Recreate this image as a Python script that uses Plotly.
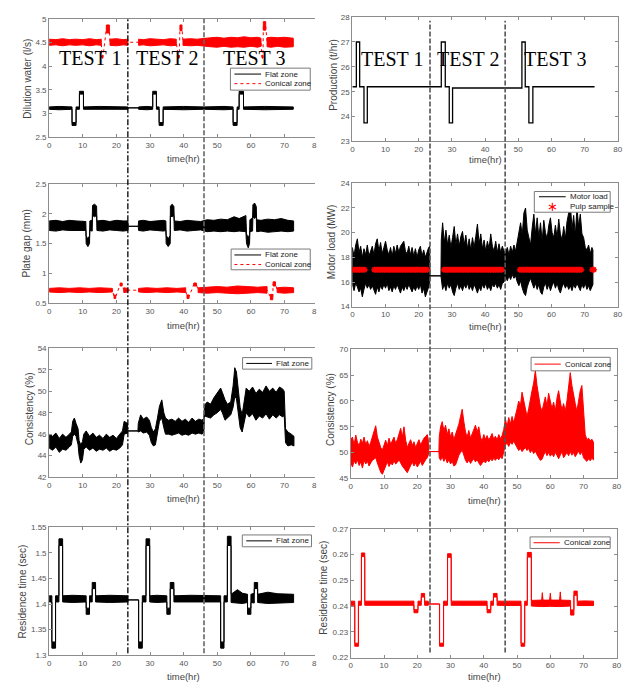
import plotly.graph_objects as go

# ---------------- test boundaries / labels ----------------
test_bounds_hr = [23.4, 46.05]
test_names = ["TEST 1", "TEST 2", "TEST 3"]
test_name_hr = [12.0, 35.0, 61.0]

# ---------------- Dilution water (l/s) ----------------
dil_flat_t = [0, 3, 6.8, 6.8, 8.0, 8.0, 9.0, 9.0, 10.2, 10.2, 15, 20, 23.4, 23.5, 26.5, 26.6, 29, 30.8, 30.8, 31.9, 31.9,
              32.7, 32.7, 33.9, 33.9, 40, 46, 52, 54.7, 54.7, 55.9, 55.9, 56.5, 56.5, 57.8, 57.8, 64, 72.6]
dil_flat_hi = [3.14, 3.15, 3.14, 2.81, 2.81, 3.14, 3.14, 3.47, 3.47, 3.14, 3.15, 3.14, 3.14, 3.12, 3.12, 3.14, 3.15, 3.14,
               3.47, 3.47, 3.14, 3.14, 2.81, 2.81, 3.14, 3.15, 3.14, 3.15, 3.14, 2.81, 2.81, 3.14, 3.14, 3.47, 3.47,
               3.14, 3.15, 3.14]
dil_flat_lo = [3.09, 3.08, 3.09, 2.75, 2.75, 3.09, 3.09, 3.41, 3.41, 3.09, 3.08, 3.09, 3.09, 3.12, 3.12, 3.09, 3.08, 3.09,
               3.41, 3.41, 3.09, 3.09, 2.75, 2.75, 3.09, 3.08, 3.09, 3.08, 3.09, 2.75, 2.75, 3.09, 3.09, 3.41, 3.41,
               3.09, 3.08, 3.09]

dil_con_t = [0, 2, 4, 6, 8, 10, 12, 14, 15.5, None, 15.7, 16.0, None, 17.0, 17.9, None, 18.1, 20, 22, 23.4, None,
             26.6, 28, 30, 32, 34, 36, 37.8, None, 38.4, 38.7, None, 38.9, 39.5, None,
             39.8, 42, 44, 46, 48, 50, 52, 54, 56, 58, 60, 62, 63.0, None, 63.3, 63.6, None, 63.7, 64.4, None,
             64.8, 66, 68, 70, 72.6]
dil_con_hi = [4.57, 4.56, 4.58, 4.56, 4.57, 4.56, 4.58, 4.56, 4.57, None, 4.23, 4.23, None, 4.87, 4.87, None,
              4.57, 4.58, 4.56, 4.57, None,
              4.57, 4.56, 4.58, 4.57, 4.56, 4.58, 4.57, None, 4.23, 4.23, None, 4.87, 4.87, None,
              4.57, 4.58, 4.57, 4.59, 4.60, 4.61, 4.59, 4.61, 4.60, 4.62, 4.60, 4.61, 4.59, None, 4.23, 4.23, None,
              4.94, 4.94, None, 4.60, 4.61, 4.60, 4.61, 4.59]
dil_con_lo = [4.44, 4.45, 4.43, 4.45, 4.44, 4.45, 4.43, 4.45, 4.44, None, 4.17, 4.17, None, 4.70, 4.70, None,
              4.44, 4.43, 4.45, 4.44, None,
              4.44, 4.45, 4.43, 4.44, 4.45, 4.43, 4.44, None, 4.17, 4.17, None, 4.75, 4.75, None,
              4.44, 4.43, 4.44, 4.42, 4.41, 4.40, 4.42, 4.40, 4.41, 4.40, 4.42, 4.40, 4.42, None, 4.17, 4.17, None,
              4.76, 4.76, None, 4.41, 4.40, 4.42, 4.40, 4.41]

# ---------------- Production (t/hr) ----------------
prod_t = [0, 1.2, 1.2, 2.2, 2.2, 3.5, 3.5, 4.5, 4.5, 23.4, 26.8, 26.8, 28.0, 28.0, 29.2, 29.2, 30.2, 30.2, 46.0,
          51.1, 51.1, 52.1, 52.1, 53.2, 53.2, 54.4, 54.4, 73.0]
prod_v = [25.2, 25.2, 27.0, 27.0, 25.2, 25.2, 23.75, 23.75, 25.2, 25.2, 25.2, 27.0, 27.0, 25.2, 25.2, 23.75, 23.75,
          25.15, 25.15, 25.15, 27.0, 27.0, 25.2, 25.2, 23.75, 23.75, 25.2, 25.2]

# ---------------- Plate gap (mm) ----------------
gap_flat_t = [0, 2, 4, 6, 8, 10, 10.9, 11.0, 11.5, 12.0, 12.1, 12.8, 12.9, 13.5, 14.1, 14.2, 16, 18, 20, 22, 23.4, 23.5,
              26.5, 26.6, 28, 30, 32, 34, 34.7, 34.8, 35.4, 36.0, 36.05, 36.6, 37.1, 37.2, 39, 41, 43, 45, 47, 49, 51,
              53, 55, 56.5, 58.5, 58.7, 59.2, 59.6, 59.7, 60.5, 60.6, 61.1, 61.6, 61.7, 63, 65, 67, 69, 71, 72.7]
gap_flat_hi = [1.88, 1.89, 1.87, 1.89, 1.88, 1.88, 1.87, 1.63, 1.58, 1.63, 1.88, 1.89, 2.14, 2.16, 2.13, 1.88, 1.89,
               1.87, 1.89, 1.88, 1.88, 1.79, 1.79, 1.88, 1.89, 1.87, 1.88, 1.89, 1.88, 1.64, 1.58, 1.64, 2.13, 2.16,
               2.12, 1.88, 1.87, 1.89, 1.88, 1.87, 1.90, 1.89, 1.91, 1.90, 1.95, 1.92, 1.97, 1.66, 1.60, 1.65, 1.90,
               1.93, 2.15, 2.18, 2.12, 1.90, 1.89, 1.91, 1.90, 1.92, 1.89, 1.88]
gap_flat_lo = [1.72, 1.71, 1.73, 1.72, 1.71, 1.72, 1.72, 1.50, 1.45, 1.50, 1.72, 1.71, 1.97, 1.95, 1.97, 1.72, 1.71,
               1.73, 1.72, 1.71, 1.72, 1.79, 1.79, 1.72, 1.71, 1.73, 1.72, 1.71, 1.72, 1.50, 1.45, 1.50, 1.96, 1.95,
               1.97, 1.72, 1.73, 1.71, 1.72, 1.73, 1.70, 1.71, 1.70, 1.71, 1.70, 1.71, 1.70, 1.50, 1.43, 1.50, 1.70,
               1.71, 1.95, 1.92, 1.96, 1.70, 1.71, 1.69, 1.70, 1.71, 1.70, 1.71]

gap_con_t = [0, 3, 6, 9, 12, 15, 18.8, None, 19.3, 19.8, None, 21.1, 21.7, None, 22.2, 23.4, None,
             26.6, 29, 32, 35, 38, 40.6, None, 41.0, 41.6, None, 43.0, 43.8, None,
             44.3, 47, 50, 53, 56, 59, 62, 64.8, None, 65.8, 66.5, None, 66.6, 67.3, None, 67.8, 70, 72.7]
gap_con_hi = [0.75, 0.76, 0.75, 0.76, 0.75, 0.76, 0.75, None, 0.64, 0.64, None, 0.84, 0.84, None, 0.76, 0.75, None,
              0.75, 0.76, 0.75, 0.76, 0.75, 0.76, None, 0.64, 0.64, None, 0.84, 0.84, None,
              0.76, 0.77, 0.78, 0.77, 0.79, 0.78, 0.77, 0.78, None, 0.65, 0.65, None, 0.86, 0.86, None,
              0.76, 0.77, 0.76]
gap_con_lo = [0.69, 0.68, 0.69, 0.68, 0.69, 0.68, 0.69, None, 0.58, 0.58, None, 0.79, 0.79, None, 0.68, 0.69, None,
              0.69, 0.68, 0.69, 0.68, 0.69, 0.68, None, 0.58, 0.58, None, 0.79, 0.79, None,
              0.68, 0.67, 0.68, 0.67, 0.66, 0.67, 0.68, 0.67, None, 0.56, 0.56, None, 0.79, 0.79, None,
              0.68, 0.67, 0.68]

# ---------------- Motor load (MW) ----------------
motor_t1 = [0, 0.5, 1, 1.5, 2, 2.5, 3, 3.5, 4, 4.5, 5, 5.5, 6, 6.5, 7, 7.5, 8, 8.5, 9, 9.5, 10, 10.5, 11, 11.5, 12,
            12.5, 13, 13.5, 14, 14.5, 15, 15.5, 16, 16.5, 17, 17.5, 18, 18.5, 19, 19.5, 20, 20.5, 21, 21.5, 22, 22.5,
            23, 23.3]
motor_hi1 = [18.8, 18.1, 19.0, 19.5, 18.4, 18.9, 18.0, 18.7, 18.2, 19.0, 18.1, 18.6, 18.9, 18.2, 19.1, 19.5, 18.5,
             19.2, 18.3, 18.8, 19.3, 18.6, 18.2, 18.8, 18.1, 18.9, 18.3, 19.0, 18.4, 18.9, 19.1, 19.3, 18.5, 18.3,
             18.9, 18.2, 18.8, 18.1, 18.7, 18.0, 18.6, 18.9, 18.1, 18.6, 18.0, 18.5, 18.8, 18.9]
motor_lo1 = [15.8, 15.3, 15.9, 15.6, 15.2, 15.5, 14.8, 15.4, 15.9, 15.5, 15.8, 15.4, 15.7, 15.3, 15.0, 15.6, 15.2,
             15.7, 15.4, 15.8, 15.5, 15.9, 15.3, 15.6, 15.2, 15.7, 15.4, 15.8, 15.5, 15.1, 15.6, 15.3, 15.7, 15.4,
             15.8, 15.5, 15.2, 15.6, 15.3, 15.7, 15.4, 15.8, 15.1, 15.5, 14.8, 15.2, 15.6, 15.9]
motor_gap_t = [23.4, 26.7]
motor_gap_v = [16.5, 16.5]
motor_t2 = [26.8, 27.2, 27.7, 28.2, 28.7, 29.2, 29.7, 30.2, 30.7, 31.2, 31.7, 32.2, 32.7, 33.2, 33.7, 34.2, 34.7,
            35.2, 35.7, 36.2, 36.7, 37.2, 37.7, 38.2, 38.7, 39.2, 39.7, 40.2, 40.7, 41.2, 41.7, 42.2, 42.7, 43.2,
            43.7, 44.2, 44.7, 45.2, 45.7]
motor_hi2 = [19.4, 20.8, 19.2, 20.2, 19.0, 19.8, 18.8, 19.6, 20.5, 19.0, 19.9, 18.9, 19.7, 20.1, 19.0, 19.8, 18.7,
             19.5, 18.6, 19.6, 18.8, 19.7, 20.7, 19.1, 19.9, 18.7, 19.4, 18.5, 19.3, 18.7, 19.9, 18.9, 18.5, 19.3,
             18.4, 19.1, 18.4, 18.9, 18.5]
motor_lo2 = [16.0, 15.4, 15.8, 15.3, 15.9, 15.5, 15.8, 15.2, 14.9, 15.5, 15.9, 15.4, 15.7, 15.3, 15.8, 15.5, 15.9,
             15.4, 15.7, 15.3, 15.8, 15.5, 15.1, 15.6, 15.3, 15.8, 15.5, 15.9, 15.4, 15.7, 15.3, 15.8, 15.6, 15.9,
             15.5, 15.8, 15.4, 15.9, 16.0]
motor_t3 = [46.2, 46.7, 47.2, 47.7, 48.2, 48.7, 49.2, 49.7, 50.2, 50.7, 51.2, 51.7, 52.2, 52.7, 53.2, 53.7, 54.2,
            54.7, 55.2, 55.7, 56.2, 56.7, 57.2, 57.7, 58.2, 58.7, 59.2, 59.7, 60.2, 60.7, 61.2, 61.7, 62.2, 62.7,
            63.2, 63.7, 64.2, 64.7, 65.2, 65.7, 66.2, 66.7, 67.2, 67.7, 68.2, 68.7, 69.2, 69.7, 70.2, 70.7, 71.2,
            71.7, 72.2, 72.5]
motor_hi3 = [18.4, 18.8, 18.2, 18.9, 18.4, 19.0, 18.5, 19.4, 20.0, 20.8, 19.8, 21.6, 22.0, 20.2, 19.6, 19.0, 20.4,
             21.5, 19.9, 21.2, 19.6, 20.8, 19.3, 21.0, 20.0, 19.5, 20.6, 21.2, 20.0, 19.6, 20.6, 19.6, 21.1, 19.9,
             19.4, 20.5, 19.5, 20.9, 21.6, 22.3, 20.3, 21.4, 19.8, 22.0, 20.5, 21.5, 19.9, 19.6, 18.8, 18.6, 19.0,
             18.3, 18.8, 18.6]
motor_lo3 = [16.4, 16.1, 16.5, 16.2, 16.6, 16.3, 16.5, 16.0, 15.7, 16.1, 15.5, 15.1, 14.9, 15.6, 16.0, 16.3, 15.9,
             15.5, 15.9, 15.4, 15.8, 15.2, 15.0, 15.6, 15.9, 15.4, 15.8, 15.3, 15.7, 16.0, 15.5, 15.9, 15.4, 15.1,
             15.6, 15.9, 15.5, 15.8, 15.4, 15.7, 15.3, 15.8, 15.5, 15.9, 15.6, 15.3, 15.8, 15.5, 15.9, 15.4, 15.7,
             15.3, 15.6, 15.8]

pulp_t = [0.2, 0.7, 1.2, 1.7, 2.2, 2.7, 3.2, 3.7,
          6.6, 7.1, 7.6, 8.1, 8.6, 9.1, 9.6, 10.1, 10.6, 11.1, 11.6, 12.1, 12.6, 13.1, 13.6, 14.1, 14.6, 15.1,
          15.6, 16.1, 16.6, 17.1, 17.6, 18.1, 18.6, 19.1, 19.6, 20.1, 20.6, 21.1, 21.6, 22.1, 22.6,
          27.6, 28.1, 28.6, 29.1, 29.6, 30.1, 30.6, 31.1, 31.6, 32.1, 32.6, 33.1, 33.6, 34.1, 34.6, 35.1, 35.6,
          36.1, 36.6, 37.1, 37.6, 38.1, 38.6, 39.1, 39.6, 40.1, 40.6, 41.1, 41.6, 42.1, 42.6, 43.1, 43.6, 44.1,
          44.6, 45.1,
          50.5, 51.0, 51.5, 52.0, 52.5, 53.0, 53.5, 54.0, 54.5, 55.0, 55.5, 56.0, 56.5, 57.0, 57.5, 58.0, 58.5,
          59.0, 59.5, 60.0, 60.5, 61.0, 61.5, 62.0, 62.5, 63.0, 63.5, 64.0, 64.5, 65.0, 65.5, 66.0, 66.5, 67.0,
          67.5, 68.0, 68.5, 69.0, 72.3, 72.8]
pulp_v = [17.0, 17.0, 17.0, 17.0, 17.0, 17.0, 17.0, 17.0,
          17.0, 17.0, 17.0, 17.0, 17.0, 17.0, 17.0, 17.0, 17.0, 17.0, 17.0, 17.0, 17.0, 17.0, 17.0, 17.0, 17.0, 17.0,
          17.0, 17.0, 17.0, 17.0, 17.0, 17.0, 17.0, 17.0, 17.0, 17.0, 17.0, 17.0, 17.0, 17.0, 17.0,
          17.0, 17.0, 17.0, 17.0, 17.0, 17.0, 17.0, 17.0, 17.0, 17.0, 17.0, 17.0, 17.0, 17.0, 17.0, 17.0, 17.0,
          17.0, 17.0, 17.0, 17.0, 17.0, 17.0, 17.0, 17.0, 17.0, 17.0, 17.0, 17.0, 17.0, 17.0, 17.0, 17.0, 17.0,
          17.0, 17.0,
          17.0, 17.0, 17.0, 17.0, 17.0, 17.0, 17.0, 17.0, 17.0, 17.0, 17.0, 17.0, 17.0, 17.0, 17.0, 17.0, 17.0,
          17.0, 17.0, 17.0, 17.0, 17.0, 17.0, 17.0, 17.0, 17.0, 17.0, 17.0, 17.0, 17.0, 17.0, 17.0, 17.0, 17.0,
          17.0, 17.0, 17.0, 17.0, 17.0, 17.0]

# ---------------- Consistency (%) flat zone ----------------
cons_flat_t = [0, 1, 2, 3, 4, 5, 6, 6.6, 7.0, 7.5, 8.0, 8.6, 8.9, 9.4, 9.9, 10.3, 11, 12, 13, 14, 15, 16, 17, 18, 19,
               20, 21, 21.8, 22.3, 23.3, 23.4, 26.4, 26.5, 27.2, 28, 29, 29.8, 30.4, 31.0, 31.6, 32.2, 32.8, 33.5,
               34.1, 34.6, 35.5, 36.5, 37.5, 38.5, 39.5, 40.5, 41.5, 42.5, 43.5, 44.5, 45.5, 46.0, 46.2, 47, 48, 49,
               50, 51, 51.5, 52.3, 53, 54, 54.7, 55.2, 55.7, 56.2, 56.8, 57.4, 58.0, 58.6, 59.5, 60.5, 61.5, 62.5,
               63.5, 64.5, 65.5, 66.5, 67.5, 68.5, 69.5, 69.9, 70.3, 71, 72, 72.8]
cons_flat_hi = [46.0, 45.8, 46.1, 45.6, 46.0, 45.7, 46.0, 46.2, 47.2, 47.5, 47.0, 46.5, 45.4, 45.0, 45.3, 46.0, 46.3,
                45.8, 46.1, 45.7, 45.9, 45.6, 46.0, 45.7, 45.9, 45.6, 46.0, 46.3, 47.2, 47.0, 46.3, 46.3, 47.0, 47.8,
                47.4, 47.6, 47.3, 46.6, 46.2, 46.5, 47.5, 48.6, 49.2, 48.0, 47.5, 47.3, 47.4, 47.2, 47.5, 47.2, 47.4,
                47.1, 47.5, 47.2, 47.4, 47.3, 47.5, 48.7, 49.0, 48.8, 49.4, 49.8, 50.3, 49.9, 49.2, 48.8, 49.0, 50.5,
                52.2, 51.8, 50.0, 48.5, 47.8, 49.0, 50.3, 50.0, 50.4, 49.8, 50.2, 49.9, 50.5, 50.0, 50.3, 49.9, 50.4,
                50.2, 50.0, 46.5, 46.2, 46.0, 45.8]
cons_flat_lo = [44.7, 44.5, 44.8, 44.3, 44.6, 44.5, 44.8, 45.0, 45.8, 46.0, 45.8, 45.0, 44.0, 43.3, 43.6, 44.6, 44.8,
                44.5, 44.7, 44.4, 44.6, 44.5, 44.7, 44.4, 44.6, 44.5, 44.7, 45.0, 46.0, 46.1, 46.3, 46.3, 46.2, 46.3,
                46.1, 46.2, 45.9, 45.2, 44.9, 45.0, 46.2, 47.2, 47.5, 46.6, 46.0, 46.0, 45.9, 46.0, 46.1, 45.9, 46.0,
                45.9, 46.1, 46.0, 46.1, 46.0, 46.2, 47.7, 47.6, 47.5, 47.8, 48.0, 48.3, 48.0, 47.3, 47.5, 47.8, 48.5,
                49.5, 49.3, 48.3, 46.6, 46.2, 47.2, 48.0, 47.6, 47.9, 47.3, 47.7, 47.5, 47.9, 47.4, 47.8, 47.5, 47.8,
                47.6, 47.8, 45.2, 44.9, 45.0, 44.9]

# ---------------- Consistency (%) conical zone ----------------
ccon_t1 = [0, 0.5, 1, 1.5, 2, 2.5, 3, 3.5, 4, 4.5, 5, 5.5, 6, 6.5, 7, 7.5, 8, 8.5, 9, 9.5, 10, 10.5, 11, 11.5, 12,
           12.5, 13, 13.5, 14, 14.5, 15, 15.5, 16, 16.5, 17, 17.5, 18, 18.5, 19, 19.5, 20, 20.5, 21, 21.5, 22, 22.5,
           23, 23.3]
ccon_hi1 = [52.5, 53.0, 51.5, 53.4, 52.0, 51.3, 52.6, 51.8, 53.0, 51.5, 52.3, 51.2, 52.0, 53.2, 54.0, 55.2, 53.0,
            51.8, 51.0, 50.5, 51.5, 52.4, 51.3, 52.8, 51.6, 52.2, 53.0, 51.8, 52.5, 53.6, 54.7, 53.0, 55.0, 52.4,
            51.0, 51.8, 52.5, 51.4, 52.1, 51.0, 51.8, 52.5, 51.5, 52.2, 52.8, 53.1, 53.5, 52.6]
ccon_lo1 = [48.0, 47.2, 48.4, 47.8, 48.6, 47.5, 48.2, 47.0, 48.5, 47.8, 48.3, 47.4, 48.0, 48.5, 48.8, 49.0, 48.0,
            47.0, 46.2, 45.8, 46.8, 47.5, 48.2, 47.3, 48.0, 47.6, 48.4, 47.8, 48.1, 48.6, 48.0, 47.4, 47.0, 46.5,
            46.1, 46.8, 47.6, 48.2, 47.4, 48.0, 47.2, 47.8, 48.3, 47.5, 48.0, 48.6, 49.0, 49.5]
ccon_gap_t = [23.4, 26.5]
ccon_gap_v = [50.2, 50.2]
ccon_t2 = [26.6, 27.0, 27.5, 28.0, 28.5, 29.0, 29.5, 30.0, 30.5, 31.0, 31.5, 32.0, 32.5, 33.0, 33.5, 34.0, 34.5,
           35.0, 35.5, 36.0, 36.5, 37.0, 37.5, 38.0, 38.5, 39.0, 39.5, 40.0, 40.5, 41.0, 41.5, 42.0, 42.5, 43.0,
           43.5, 44.0, 44.5, 45.0, 45.5, 46.0]
ccon_hi2 = [53.0, 55.0, 56.0, 54.2, 55.3, 53.5, 54.6, 53.0, 54.0, 52.5, 53.4, 54.5, 55.5, 57.0, 58.4, 56.0, 54.0,
            53.0, 54.3, 52.8, 53.6, 54.5, 55.3, 54.0, 55.0, 53.0, 52.2, 53.5, 52.6, 53.3, 52.4, 53.0, 53.7, 52.5,
            53.2, 52.4, 53.5, 52.7, 53.3, 54.5]
ccon_lo2 = [49.0, 48.5, 49.2, 48.3, 49.0, 48.0, 48.6, 47.8, 48.3, 47.4, 47.6, 48.5, 49.5, 50.0, 50.5, 49.5, 48.5,
            48.0, 48.6, 47.9, 48.4, 48.8, 48.2, 48.6, 48.0, 47.5, 47.8, 48.4, 48.0, 48.6, 48.2, 48.8, 48.4, 48.9,
            48.5, 49.0, 48.6, 49.2, 48.8, 50.0]
ccon_t3 = [46.5, 47.0, 47.5, 48.0, 48.5, 49.0, 49.5, 50.0, 50.5, 51.0, 51.5, 52.0, 52.5, 53.0, 53.5, 54.0, 54.5,
           55.0, 55.5, 56.0, 56.5, 57.0, 57.5, 58.0, 58.5, 59.0, 59.5, 60.0, 60.5, 61.0, 61.5, 62.0, 62.5, 63.0,
           63.5, 64.0, 64.5, 65.0, 65.5, 66.0, 66.5, 67.0, 67.5, 68.0, 68.5, 69.0, 69.5, 70.0, 70.5, 71.0, 71.5,
           72.0, 72.5, 73.0]
ccon_hi3 = [56.5, 55.0, 56.8, 55.5, 57.0, 55.8, 57.5, 58.5, 60.0, 59.0, 61.7, 60.0, 58.0, 57.0, 58.5, 60.5, 62.0,
            63.5, 65.9, 63.0, 61.0, 59.0, 58.0, 59.5, 60.8, 59.0, 61.5, 60.0, 58.5, 59.8, 58.0, 60.5, 62.0, 60.0,
            58.2, 59.5, 58.0, 60.0, 62.5, 65.5, 63.0, 61.0, 59.5, 58.0, 60.0, 62.0, 63.0, 58.0, 53.5, 52.5, 52.8,
            52.3, 52.6, 52.0]
ccon_lo3 = [51.5, 51.8, 51.2, 52.0, 51.6, 52.2, 51.5, 51.0, 50.4, 50.8, 50.2, 50.6, 51.0, 50.4, 50.8, 50.0, 50.5,
            49.8, 50.3, 49.6, 49.0, 48.5, 48.7, 49.5, 50.2, 49.4, 50.0, 49.3, 49.8, 49.2, 50.0, 49.5, 48.8, 49.6,
            50.2, 49.0, 49.6, 50.0, 49.4, 50.2, 49.5, 50.0, 49.2, 49.8, 50.3, 49.6, 50.2, 49.0, 48.6, 48.3, 48.8,
            48.4, 48.9, 48.6]

# ---------------- Residence time (sec) flat zone ----------------
res_flat_t = [0, 0.8, 0.8, 1.9, 1.9, 2.9, 2.9, 4.0, 4.0, 7, 11.0, 11.0, 12.0, 12.0, 12.8, 12.8, 13.8, 13.8, 18, 23.4,
              23.5, 26.6, 26.6, 27.7, 27.7, 28.8, 28.8, 29.9, 29.9, 32, 35.0, 35.0, 36.0, 36.0, 37.1, 37.1, 42, 47,
              51.0, 51.0, 52.0, 52.0, 53.0, 53.0, 54.1, 54.1, 56, 57.5, 59.0, 59.0, 60.0, 60.0, 61.0, 61.0, 62.0,
              62.0, 65, 68, 72.7]
res_flat_hi = [1.416, 1.416, 1.326, 1.326, 1.416, 1.416, 1.527, 1.527, 1.416, 1.417, 1.416, 1.392, 1.392, 1.416,
               1.416, 1.442, 1.442, 1.416, 1.417, 1.416, 1.408, 1.408, 1.326, 1.326, 1.416, 1.416, 1.527, 1.527,
               1.416, 1.417, 1.416, 1.392, 1.392, 1.442, 1.442, 1.416, 1.417, 1.416, 1.416, 1.326, 1.326, 1.416,
               1.416, 1.532, 1.532, 1.419, 1.428, 1.421, 1.419, 1.392, 1.392, 1.419, 1.421, 1.442, 1.442, 1.419,
               1.423, 1.420, 1.419]
res_flat_lo = [1.404, 1.404, 1.314, 1.314, 1.404, 1.404, 1.514, 1.514, 1.404, 1.403, 1.404, 1.380, 1.380, 1.404,
               1.404, 1.430, 1.430, 1.404, 1.403, 1.404, 1.408, 1.408, 1.314, 1.314, 1.404, 1.404, 1.514, 1.514,
               1.404, 1.403, 1.404, 1.380, 1.380, 1.430, 1.430, 1.404, 1.403, 1.404, 1.404, 1.314, 1.314, 1.404,
               1.404, 1.514, 1.514, 1.403, 1.402, 1.401, 1.403, 1.380, 1.380, 1.403, 1.402, 1.430, 1.430, 1.403,
               1.401, 1.402, 1.403]

# ---------------- Residence time (sec) conical zone ----------------
res_con_t = [0, 1.2, 1.2, 2.3, 2.3, 3.2, 3.2, 4.2, 4.2, 10, 15, 19.0, 19.0, 20.2, 20.2, 21.2, 21.2, 22.2, 22.2, 23.3,
             23.4, 26.7, 26.7, 27.9, 27.9, 29.1, 29.1, 30.2, 30.2, 36, 41.0, 41.0, 42.1, 42.1, 42.9, 42.9, 44.0, 44.0,
             48, 51.2, 51.2, 52.3, 52.3, 53.1, 53.1, 54.3, 54.3, 57.4, 57.6, 57.8, 59.8, 60.0, 60.2, 62.8, 63.0,
             63.2, 66.1, 66.1, 67.1, 67.1, 68.1, 68.1, 70.5, 73.0]
res_con_hi = [0.2419, 0.2419, 0.2256, 0.2256, 0.2419, 0.2419, 0.2606, 0.2606, 0.2419, 0.2420, 0.2419, 0.2419,
              0.2386, 0.2386, 0.2419, 0.2419, 0.2449, 0.2449, 0.2419, 0.2419, 0.2408, 0.2408, 0.2256, 0.2256,
              0.2419, 0.2419, 0.2603, 0.2603, 0.2419, 0.2420, 0.2419, 0.2386, 0.2386, 0.2419, 0.2419, 0.2449,
              0.2449, 0.2419, 0.2420, 0.2419, 0.2256, 0.2256, 0.2419, 0.2419, 0.2608, 0.2608, 0.2422, 0.2423,
              0.2452, 0.2423, 0.2423, 0.2450, 0.2423, 0.2423, 0.2455, 0.2423, 0.2422, 0.2385, 0.2385, 0.2458,
              0.2458, 0.2419, 0.2420, 0.2419]
res_con_lo = [0.2403, 0.2403, 0.2244, 0.2244, 0.2403, 0.2403, 0.2592, 0.2592, 0.2403, 0.2402, 0.2403, 0.2403,
              0.2374, 0.2374, 0.2403, 0.2403, 0.2435, 0.2435, 0.2403, 0.2403, 0.2408, 0.2408, 0.2244, 0.2244,
              0.2403, 0.2403, 0.2589, 0.2589, 0.2403, 0.2402, 0.2403, 0.2374, 0.2374, 0.2403, 0.2403, 0.2435,
              0.2435, 0.2403, 0.2402, 0.2403, 0.2244, 0.2244, 0.2403, 0.2403, 0.2590, 0.2590, 0.2400, 0.2398,
              0.2399, 0.2398, 0.2399, 0.2398, 0.2399, 0.2398, 0.2399, 0.2398, 0.2400, 0.2365, 0.2365, 0.2442,
              0.2442, 0.2402, 0.2401, 0.2402]

# ---------------- consistency checks ----------------
for a, b, c in [(dil_flat_t, dil_flat_hi, dil_flat_lo), (dil_con_t, dil_con_hi, dil_con_lo),
                (gap_flat_t, gap_flat_hi, gap_flat_lo), (gap_con_t, gap_con_hi, gap_con_lo),
                (motor_t1, motor_hi1, motor_lo1), (motor_t2, motor_hi2, motor_lo2), (motor_t3, motor_hi3, motor_lo3),
                (cons_flat_t, cons_flat_hi, cons_flat_lo), (ccon_t1, ccon_hi1, ccon_lo1),
                (ccon_t2, ccon_hi2, ccon_lo2), (ccon_t3, ccon_hi3, ccon_lo3),
                (res_flat_t, res_flat_hi, res_flat_lo), (res_con_t, res_con_hi, res_con_lo)]:
    assert len(a) == len(b) == len(c), (len(a), len(b), len(c))
assert len(prod_t) == len(prod_v) and len(pulp_t) == len(pulp_v), (len(pulp_t), len(pulp_v))

# combined series (built from the arrays above)
motor_t = motor_t1 + motor_gap_t + motor_t2 + motor_t3
motor_hi = motor_hi1 + motor_gap_v + motor_hi2 + motor_hi3
motor_lo = motor_lo1 + motor_gap_v + motor_lo2 + motor_lo3
ccon_t = ccon_t1 + ccon_gap_t + ccon_t2 + ccon_t3
ccon_hi = ccon_hi1 + ccon_gap_v + ccon_hi2 + ccon_hi3
ccon_lo = ccon_lo1 + ccon_gap_v + ccon_lo2 + ccon_lo3

# ---------------- layout geometry (pixels) ----------------
W, H = 631, 686
RED = "#ff0000"
AXC = "#8c8c8c"
TXT = "#555555"
FONT = "Liberation Sans, Arial, sans-serif"


def px(x):
    return x / W


def py(y):
    return 1 - y / H


def band(t, hi, lo):
    xs, ys = [], []
    segs, cur = [], []
    for i, v in enumerate(t):
        if v is None:
            if cur:
                segs.append(cur)
            cur = []
        else:
            cur.append(i)
    if cur:
        segs.append(cur)
    for s in segs:
        st = [t[i] for i in s]
        sh = [hi[i] for i in s]
        sl = [lo[i] for i in s]
        xs += st + st[::-1] + [st[0], None]
        ys += sh + sl[::-1] + [sh[0], None]
    return xs, ys


def midline(t, hi, lo):
    xs, ys = [], []
    for a, b, c in zip(t, hi, lo):
        if a is not None:
            xs.append(a)
            ys.append((b + c) / 2)
    return xs, ys


fig = go.Figure()


def axn(i):
    return "" if i == 1 else str(i)


def add_band(t, hi, lo, color, i):
    xs, ys = band(t, hi, lo)
    fig.add_trace(go.Scatter(x=xs, y=ys, mode="lines", fill="toself", fillcolor=color,
                             line=dict(color=color, width=1), showlegend=False, hoverinfo="skip",
                             xaxis="x" + axn(i), yaxis="y" + axn(i)))


def add_line(x, y, color, i, width=1, dash="solid"):
    fig.add_trace(go.Scatter(x=x, y=y, mode="lines", line=dict(color=color, width=width, dash=dash),
                             showlegend=False, hoverinfo="skip", xaxis="x" + axn(i), yaxis="y" + axn(i)))


# 1: dilution water
mx, my = midline(dil_con_t, dil_con_hi, dil_con_lo)
add_line(mx, my, RED, 1, width=1, dash="dot")
add_band(dil_con_t, dil_con_hi, dil_con_lo, RED, 1)
add_band(dil_flat_t, dil_flat_hi, dil_flat_lo, "black", 1)
# 2: production
add_line(prod_t, prod_v, "black", 2, width=1.3)
# 3: plate gap
add_band(gap_flat_t, gap_flat_hi, gap_flat_lo, "black", 3)
mx, my = midline(gap_con_t, gap_con_hi, gap_con_lo)
add_line(mx, my, RED, 3, width=1, dash="dot")
add_band(gap_con_t, gap_con_hi, gap_con_lo, RED, 3)
# 4: motor load
add_band(motor_t, motor_hi, motor_lo, "black", 4)
fig.add_trace(go.Scatter(x=pulp_t, y=pulp_v, mode="markers", showlegend=False, hoverinfo="skip",
                         marker=dict(symbol="asterisk-open", size=5, color=RED, line=dict(color=RED, width=1.5)),
                         xaxis="x4", yaxis="y4"))
# 5-8
add_band(cons_flat_t, cons_flat_hi, cons_flat_lo, "black", 5)
add_band(ccon_t, ccon_hi, ccon_lo, RED, 6)
add_band(res_flat_t, res_flat_hi, res_flat_lo, "black", 7)
add_band(res_con_t, res_con_hi, res_con_lo, RED, 8)

# ---------------- axes ----------------
# (index, x px left, x px right, y px top, y px bottom, y range, y dtick, left column?)
panels = [
    (1, 47.7, 317.0, 15.0, 135.0, [2.5, 5], 0.5, True),
    (2, 354.3, 622.7, 13.3, 139.3, [23, 28], 1, False),
    (3, 47.7, 317.0, 182.3, 303.3, [0.5, 2.5], 0.5, True),
    (4, 354.3, 622.7, 181.7, 306.7, [14, 24], 2, False),
    (5, 47.7, 317.0, 349.0, 479.3, [42, 54], 2, True),
    (6, 352.7, 621.7, 350.0, 480.7, [45, 70], 5, False),
    (7, 47.7, 317.0, 530.0, 660.0, [1.3, 1.55], 0.05, True),
    (8, 352.7, 621.7, 531.7, 662.3, [0.22, 0.27], 0.01, False),
]
common = dict(showline=True, linecolor=AXC, linewidth=1, ticks="inside", ticklen=3, tickcolor=AXC,
              tickfont=dict(size=8, color=TXT, family=FONT), showgrid=False, zeroline=False)
layout_axes = {}
for i, xl, xr, yt, yb, yr, dt, left in panels:
    xmax = 80 if not left else 80 * (xr - xl) / (319.7 - 47.7)
    layout_axes["xaxis" + axn(i)] = dict(common, domain=[px(xl), px(xr)], range=[0, xmax], anchor="y" + axn(i),
                                         tickmode="array",
                                         tickvals=[0, 10, 20, 30, 40, 50, 60, 70] + ([] if left else [80]),
                                         mirror="ticks")
    layout_axes["yaxis" + axn(i)] = dict(common, domain=[py(yb), py(yt)], range=yr, dtick=dt, anchor="x" + axn(i),
                                         mirror=False if left else "ticks")
fig.update_layout(**layout_axes)

# ---------------- annotations ----------------
ann = []
xt = [(183.5, 157), (489, 158), (184, 325.5), (489, 327), (184, 501), (488, 503), (184, 681), (488, 681.5)]
for (x, y) in xt:
    ann.append(dict(x=px(x), y=py(y), xref="paper", yref="paper", text="time(hr)", showarrow=False,
                    xanchor="center", yanchor="middle", font=dict(size=9.5, color="#444", family=FONT)))
yt = [("Dilution water (l/s)", 25, 76), ("Production (t/hr)", 334.5, 72), ("Plate gap (mm)", 25, 243),
      ("Motor load (MW)", 334, 241), ("Consistency (%)", 28, 410), ("Consistency (%)", 332, 411),
      ("Residence time (sec)", 20.5, 595), ("Residence time (sec)", 325, 591)]
for (t, x, y) in yt:
    ann.append(dict(x=px(x), y=py(y), xref="paper", yref="paper", text=t, showarrow=False, textangle=-90,
                    xanchor="center", yanchor="middle", font=dict(size=10, color="#444", family=FONT)))
# clipped "80" tick labels of the left column
for yb in [135.0, 303.3, 479.3, 660.0]:
    ann.append(dict(x=px(316.5), y=py(yb + 8.5), xref="paper", yref="paper", text="8", showarrow=False,
                    xanchor="center", yanchor="middle", font=dict(size=8, color=TXT, family=FONT)))
# TEST labels
SERIF = "Liberation Serif, Times New Roman, serif"
for name, th in zip(test_names, test_name_hr):
    ann.append(dict(x=th, y=4.17, xref="x", yref="y", text=name, showarrow=False, xanchor="center",
                    yanchor="middle", font=dict(size=20, color="black", family=SERIF)))
    ann.append(dict(x=th, y=26.3, xref="x2", yref="y2", text=name, showarrow=False, xanchor="center",
                    yanchor="middle", font=dict(size=20, color="black", family=SERIF)))

# ---------------- dashed test boundaries ----------------
shapes = []
styles_left = [dict(color="black", width=1.3, dash="6px,2px,2px,2px"), dict(color="#666666", width=1.6, dash="5px,2px")]
for tb, st in zip(test_bounds_hr, styles_left):
    shapes.append(dict(type="line", xref="x", yref="paper", x0=tb, x1=tb, y0=py(658), y1=py(15),
                       line=st, layer="above"))
for tb in test_bounds_hr:
    shapes.append(dict(type="line", xref="x2", yref="paper", x0=tb, x1=tb, y0=py(657), y1=py(17),
                       line=dict(color="#555555", width=1.6, dash="5px,2px"), layer="above"))

# ---------------- legends (MATLAB-style boxes) ----------------
# box: (x0, x1, y0, y1), entries: (label, kind, colour, y centre, sample x0, sample x1, text x)
legend_boxes = [
    ((231.0, 311.7, 65.0, 87.3), [("Flat zone", "solid", "black", 71.0, 235, 262, 264),
                                   ("Conical zone", "dot", RED, 80.7, 235, 262, 264)]),
    ((231.7, 311.7, 248.3, 269.3), [("Flat zone", "solid", "black", 254.3, 235, 262, 264),
                                     ("Conical zone", "dot", RED, 264.0, 235, 262, 264)]),
    ((538.3, 615.0, 190.0, 211.0), [("Motor load", "solid", "black", 195.3, 543, 570, 572),
                                     ("Pulp sample", "star", RED, 205.3, 543, 570, 572)]),
    ((243.3, 313.3, 358.3, 370.0), [("Flat zone", "solid", "black", 364.2, 247, 273, 275)]),
    ((535.0, 615.0, 358.0, 371.7), [("Conical zone", "solid", RED, 364.9, 538.5, 565, 567)]),
    ((243.0, 313.0, 538.0, 550.0), [("Flat zone", "solid", "black", 544.0, 247, 273, 275)]),
    ((534.0, 615.0, 540.0, 551.7), [("Conical zone", "solid", RED, 545.9, 537.5, 564, 566)]),
]
for (x0, x1, y0, y1), entries in legend_boxes:
    shapes.append(dict(type="rect", xref="paper", yref="paper", x0=px(x0), x1=px(x1), y0=py(y1), y1=py(y0),
                       fillcolor="white", line=dict(color="#7a7a7a", width=1), layer="above"))
    for label, kind, col, yc, sx0, sx1, tx in entries:
        if kind == "star":
            ann.append(dict(x=px((sx0 + sx1) / 2), y=py(yc), xref="paper", yref="paper", text="∗",
                            showarrow=False, xanchor="center", yanchor="middle",
                            font=dict(size=13, color=col, family="DejaVu Sans")))
        else:
            shapes.append(dict(type="line", xref="paper", yref="paper", x0=px(sx0), x1=px(sx1), y0=py(yc),
                               y1=py(yc), line=dict(color=col, width=1, dash=kind), layer="above"))
        ann.append(dict(x=px(tx), y=py(yc), xref="paper", yref="paper", text=label, showarrow=False,
                        xanchor="left", yanchor="middle", font=dict(size=8, color="#222", family=FONT)))

fig.update_layout(
    width=W, height=H, margin=dict(l=0, r=0, t=0, b=0),
    paper_bgcolor="white", plot_bgcolor="white", showlegend=False,
    annotations=ann, shapes=shapes,
    font=dict(family=FONT, size=8, color=TXT),
)

fig.write_html("out.html")
